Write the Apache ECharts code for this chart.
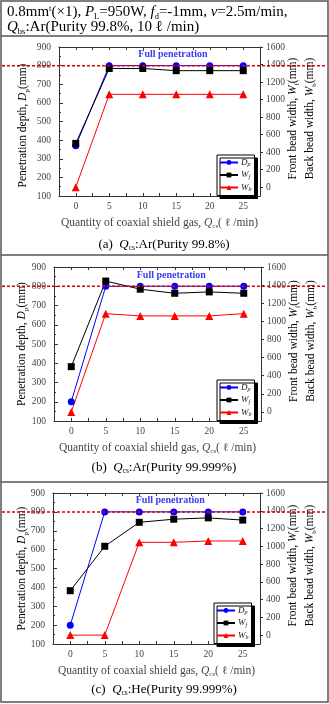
<!DOCTYPE html>
<html>
<head>
<meta charset="utf-8">
<script src="https://cdn.jsdelivr.net/npm/echarts@6/dist/echarts.min.js"></script>
<style>
html, body { margin: 0; padding: 0; background: #fff; }
#main { width: 329px; height: 704px; }
</style>
</head>
<body>
<div id="main"></div>
<script>
// coaxial shield gas flow (l/min)
var flow = [0, 5, 10, 15, 20, 25];
// (a) Ar 99.8%
var dpA = [370, 800, 800, 800, 800, 800];
var wfA = [500, 1355, 1355, 1330, 1330, 1330];
var wbA = [0, 1060, 1060, 1060, 1060, 1060];
// (b) Ar 99.999%
var dpB = [200, 800, 800, 800, 800, 800];
var wfB = [500, 1445, 1355, 1310, 1325, 1310];
var wbB = [0, 1085, 1060, 1060, 1060, 1085];
// (c) He 99.999%
var dpC = [200, 800, 800, 800, 800, 800];
var wfC = [500, 1000, 1270, 1305, 1320, 1295];
var wbC = [0, 0, 1045, 1045, 1060, 1060];

var xLabels = [0, 5, 10, 15, 20, 25];
var xTickVals = [0, 2.5, 5, 7.5, 10, 12.5, 15, 17.5, 20, 22.5, 25];
var rightLabels = [0, 200, 400, 600, 800, 1000, 1200, 1400, 1600];
var fullPen = 800;
var captionTags = ['(a)', '(b)', '(c)'];
var gasNames = ['Ar(Purity 99.8%)', 'Ar(Purity 99.999%)', 'He(Purity 99.999%)'];

var serif = '"Liberation Serif", "DejaVu Serif", serif';
var txt = '#444';

var panels = [
    {dp: dpA, wf: wfA, wb: wbA, grid: {left: 59, top: 47, width: 201, height: 149}, leg: {left: 217, top: 155}, capY: 245, nameX: 23, dy: 4},
    {dp: dpB, wf: wfB, wb: wbB, grid: {left: 54, top: 267, width: 207, height: 154}, leg: {left: 217, top: 380}, capY: 468, nameX: 22, dy: 0},
    {dp: dpC, wf: wfC, wb: wbC, grid: {left: 53, top: 493, width: 207, height: 151}, leg: {left: 214, top: 603}, capY: 690, nameX: 22, dy: 0}
];

function pairs(ys) {
    return flow.map(function (x, i) { return [x, ys[i]]; });
}

var richName = {
    n: {fontFamily: serif, fontSize: 11.5, color: txt, lineHeight: 15},
    i: {fontFamily: serif, fontSize: 11.5, fontStyle: 'italic', color: txt, lineHeight: 15},
    s: {fontFamily: serif, fontSize: 7, color: txt, verticalAlign: 'bottom', lineHeight: 15}
};

var grids = [], xAxes = [], yAxes = [], series = [], legends = [];

panels.forEach(function (p, k) {
    grids.push(p.grid);
    xAxes.push({
        type: 'value', gridIndex: k, min: -2.5, max: 27.5, position: 'bottom',
        name: '{n|Quantity of coaxial shield gas, }{i|Q}{s|cs}{n|( ℓ /min)}',
        nameLocation: 'middle', nameGap: 19, nameMoveOverlap: false,
        nameTextStyle: {rich: richName},
        axisLine: {show: true, onZero: false, lineStyle: {color: '#333', width: 1}},
        axisTick: {show: true, inside: true, length: 3, customValues: xTickVals, lineStyle: {color: '#333'}},
        axisLabel: {customValues: xLabels, fontFamily: serif, fontSize: 9.5, color: txt, margin: 5},
        splitLine: {show: false}
    });
    xAxes.push({
        type: 'value', gridIndex: k, min: -2.5, max: 27.5, position: 'top',
        axisLine: {show: true, onZero: false, lineStyle: {color: '#333', width: 1}},
        axisTick: {show: true, inside: true, length: 3, customValues: xTickVals, lineStyle: {color: '#333'}},
        axisLabel: {show: false},
        splitLine: {show: false}
    });
    yAxes.push({
        type: 'value', gridIndex: k, min: 100, max: 900, interval: 100, position: 'left',
        axisLine: {show: true, onZero: false, lineStyle: {color: '#333', width: 1}},
        axisTick: {show: true, inside: true, length: 4, lineStyle: {color: '#333'}},
        minorTick: {show: true, splitNumber: 2, length: 2, lineStyle: {color: '#333'}},
        axisLabel: {fontFamily: serif, fontSize: 9.5, color: txt, margin: 8},
        splitLine: {show: false}
    });
    yAxes.push({
        type: 'value', gridIndex: k, min: -100, max: 1600, position: 'right',
        axisLine: {show: true, onZero: false, lineStyle: {color: '#333', width: 1}},
        axisTick: {show: true, inside: false, length: 3, customValues: rightLabels, lineStyle: {color: '#333'}},
        axisLabel: {customValues: rightLabels, formatter: function (v) { return String(v); },
            fontFamily: serif, fontSize: 9.5, color: txt, margin: 6},
        splitLine: {show: false}
    });
    series.push({
        name: 'Dp', type: 'line', xAxisIndex: 2 * k, yAxisIndex: 2 * k, data: pairs(p.dp),
        symbol: 'circle', symbolSize: 7, color: '#0000ff', lineStyle: {width: 1}
    });
    series.push({
        name: 'Wf', type: 'line', xAxisIndex: 2 * k, yAxisIndex: 2 * k + 1, data: pairs(p.wf),
        symbol: 'rect', symbolSize: 7, color: '#000000', lineStyle: {width: 1}
    });
    series.push({
        name: 'Wb', type: 'line', xAxisIndex: 2 * k, yAxisIndex: 2 * k + 1, data: pairs(p.wb),
        symbol: 'triangle', symbolSize: 8, color: '#ff0000', lineStyle: {width: 1}
    });
    legends.push({
        data: ['Dp', 'Wf', 'Wb'], orient: 'vertical', left: p.leg.left, top: p.leg.top,
        itemWidth: 18, itemHeight: 6, itemGap: 3, padding: [3, 3, 3, 2],
        backgroundColor: '#fff', borderColor: '#000', borderWidth: 1,
        shadowColor: '#000', shadowBlur: 0, shadowOffsetX: 3, shadowOffsetY: 3,
        selectedMode: false,
        formatter: function (name) { return '{i|' + name[0] + '}{s|' + name.slice(1) + '}'; },
        textStyle: {padding: [0, 0, 0, -2], rich: {
            i: {fontFamily: serif, fontSize: 9, fontStyle: 'italic', color: '#222', lineHeight: 9},
            s: {fontFamily: serif, fontSize: 6, fontStyle: 'italic', color: '#222', verticalAlign: 'bottom', lineHeight: 10}
        }}
    });
});

var chart = echarts.init(document.getElementById('main'));
chart.setOption({
    animation: false,
    grid: grids, xAxis: xAxes, yAxis: yAxes, series: series, legend: legends
});

var headRich = {
    n: {fontFamily: serif, fontSize: 15, color: '#333', lineHeight: 17},
    i: {fontFamily: serif, fontSize: 15, fontStyle: 'italic', color: '#333', lineHeight: 17},
    s: {fontFamily: serif, fontSize: 8.5, color: '#333', verticalAlign: 'bottom', lineHeight: 17},
    u: {fontFamily: serif, fontSize: 8.5, color: '#333', verticalAlign: 'top', lineHeight: 17}
};
var capRich = {
    n: {fontFamily: serif, fontSize: 13, color: '#333', lineHeight: 15},
    i: {fontFamily: serif, fontSize: 13, fontStyle: 'italic', color: '#333', lineHeight: 15},
    s: {fontFamily: serif, fontSize: 7.5, color: '#333', verticalAlign: 'bottom', lineHeight: 15}
};

var graphics = [
    {type: 'rect', shape: {x: 1, y: 1, width: 327, height: 701}, style: {fill: 'none', stroke: '#555', lineWidth: 1.5}, silent: true},
    {type: 'line', shape: {x1: 1, y1: 36, x2: 328, y2: 36}, style: {stroke: '#555', lineWidth: 1.5}},
    {type: 'line', shape: {x1: 1, y1: 255, x2: 328, y2: 255}, style: {stroke: '#555', lineWidth: 1.5}},
    {type: 'line', shape: {x1: 1, y1: 482, x2: 328, y2: 482}, style: {stroke: '#555', lineWidth: 1.5}},
    {type: 'text', left: 7, top: 4, style: {
        text: '{n|0.8mm}{u|t}{n|(×1), }{i|P}{s|L}{n|=950W, }{i|f}{s|d}{n|=-1mm, }{i|v}{n|=2.5m/min,}',
        rich: headRich}},
    {type: 'text', left: 7, top: 20, style: {
        text: '{i|Q}{s|bs}{n|:Ar(Purity 99.8%, 10 ℓ /min)}',
        rich: headRich}}
];

panels.forEach(function (p, k) {
    var yLine = chart.convertToPixel({xAxisIndex: 2 * k, yAxisIndex: 2 * k}, [0, fullPen])[1];
    var xText = chart.convertToPixel({xAxisIndex: 2 * k, yAxisIndex: 2 * k}, [14.5, fullPen])[0];
    var midY = p.grid.top + p.grid.height / 2;
    var rightX = p.grid.left + p.grid.width;
    graphics.push({type: 'line', z: 10, shape: {x1: 2, y1: yLine, x2: 327, y2: yLine},
        style: {stroke: '#e00000', lineWidth: 1.5, lineDash: [3, 2]}});
    graphics.push({type: 'text', z: 10, x: xText, y: yLine - 11, style: {
        text: 'Full penetration', fill: '#3b3bf0', fontFamily: serif, fontSize: 10, fontWeight: 'bold',
        align: 'center', verticalAlign: 'middle'}});
    graphics.push({type: 'text', x: 164, y: p.capY, style: {
        text: '{n|' + captionTags[k] + '  }{i|Q}{s|cs}{n|:' + gasNames[k] + '}',
        rich: capRich, align: 'center', verticalAlign: 'middle'}});
    // axis titles of the y axes
    graphics.push({type: 'text', x: p.nameX, y: midY + p.dy, rotation: Math.PI / 2, style: {
        text: '{n|Penetration depth, }{i|D}{s|p}{n|(mm)}', rich: richName,
        align: 'center', verticalAlign: 'middle'}});
    graphics.push({type: 'text', x: rightX + 33, y: midY - 3, rotation: Math.PI / 2, style: {
        text: '{n|Front bead width, }{i|W}{s|f}{n|(mm)}', rich: richName,
        align: 'center', verticalAlign: 'middle'}});
    graphics.push({type: 'text', x: rightX + 50, y: midY - 3, rotation: Math.PI / 2, style: {
        text: '{n|Back bead width, }{i|W}{s|b}{n|(mm)}', rich: richName,
        align: 'center', verticalAlign: 'middle'}});
});

chart.setOption({graphic: graphics});
</script>
</body>
</html>
